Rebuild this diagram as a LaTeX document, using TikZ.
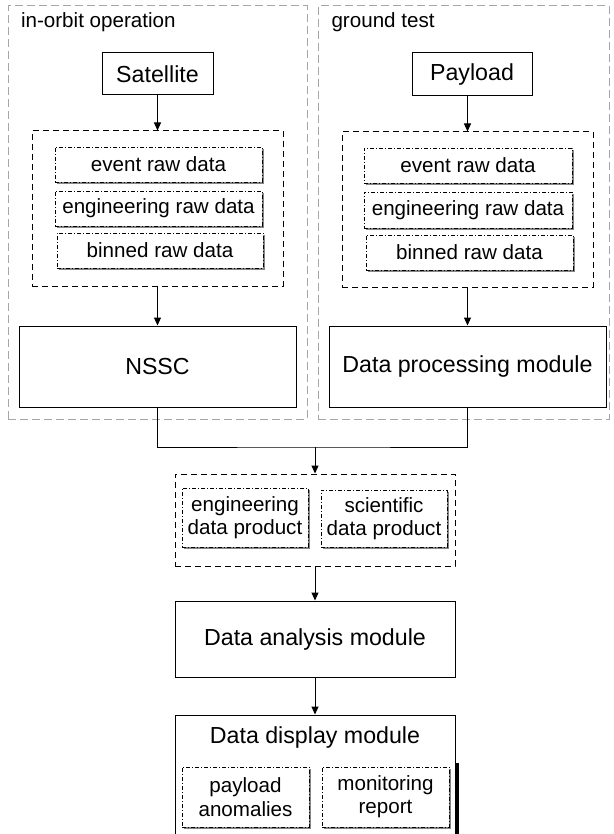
\documentclass[tikz,border=0pt]{standalone}
\usepackage{fontspec}
\setmainfont{Liberation Sans}
\usetikzlibrary{arrows.meta,shadows}

\begin{document}
\begin{tikzpicture}[x=1pt,y=-1pt,
  big node/.style={draw,fill=white,line width=1pt,inner sep=0pt,font=\fontsize{23.2}{26}\selectfont},
  raw node/.style={draw,fill=white,line width=0.8pt,inner sep=0pt,align=center,
    dash pattern=on 4pt off 2pt on 1pt off 2pt,font=\fontsize{20.6}{23.3}\selectfont,
    drop shadow={shadow xshift=2pt,shadow yshift=-2pt,fill=black!60,opacity=.8}},
  group node/.style={draw,line width=1pt,inner sep=0pt,dash pattern=on 6pt off 4pt},
  area node/.style={draw=black!35,line width=1pt,inner sep=0pt,dash pattern=on 8pt off 4pt},
  arr/.style={-{Triangle[length=8pt,width=7pt]},line width=1pt}]

  \useasboundingbox (0,0) rectangle (613,834);

  % two test areas
  \node[area node,minimum width=299pt,minimum height=413pt] (orbit) at (157.5,212.5) {};
  \node[area node,minimum width=291pt,minimum height=413pt] (ground) at (463.5,212.5) {};
  \node[anchor=base west,font=\fontsize{20.6}{23.3}\selectfont] (t1) at (17.5,27.5) {in-orbit operation};
  \node[anchor=base west,font=\fontsize{20.6}{23.3}\selectfont] (t2) at (328,27.5) {ground test};

  % in-orbit operation
  \node[big node,minimum width=111pt,minimum height=42pt] (sat) at (157.5,74) {Satellite};
  \node[group node,minimum width=251pt,minimum height=155pt] (g1) at (157.5,208.5) {};
  \node[raw node,minimum width=207pt,minimum height=35pt] (erd1) at (158.5,164.5) {event raw data};
  \node[raw node,minimum width=207pt,minimum height=35pt] (eng1) at (158.5,208.5) {engineering raw data};
  \node[raw node,minimum width=206pt,minimum height=35pt] (bin1) at (160,250.5) {binned raw data};
  \node[big node,minimum width=277pt,minimum height=81pt] (nssc) at (157.5,366.5) {NSSC};

  % ground test
  \node[big node,minimum width=120pt,minimum height=43pt] (pay) at (472,74.5) {Payload};
  \node[group node,minimum width=251pt,minimum height=155pt] (g2) at (467.5,209.5) {};
  \node[raw node,minimum width=208pt,minimum height=35pt] (erd2) at (468,165.5) {event raw data};
  \node[raw node,minimum width=208pt,minimum height=36pt] (eng2) at (468,210) {engineering raw data};
  \node[raw node,minimum width=207pt,minimum height=35pt] (bin2) at (469.5,252.5) {binned raw data};
  \node[big node,minimum width=277pt,minimum height=81pt] (dpm) at (467.5,366.5) {Data processing module};

  % products and modules
  \coordinate (j) at (315,447);
  \node[group node,minimum width=280pt,minimum height=92pt] (g3) at (315,520) {};
  \node[raw node,minimum width=126pt,minimum height=59pt] (edp) at (245,517.5) {engineering\\data product};
  \node[raw node,minimum width=126pt,minimum height=57pt] (sdp) at (384,518.5) {scientific\\data product};
  \node[big node,minimum width=280pt,minimum height=76pt] (dam) at (315,639) {Data analysis module};
  \node[big node,minimum width=280pt,minimum height=145pt] (ddm) at (315,787.5) {};
  \node[anchor=base,font=\fontsize{23.2}{26}\selectfont] (t3) at (315,743.3) {Data display module};
  \node[raw node,minimum width=127pt,minimum height=60pt] (pa) at (245.5,797) {payload\\anomalies};
  \node[raw node,minimum width=127pt,minimum height=60pt] (mr) at (385.5,797) {monitoring\\report};
  \draw[line width=4pt] (457,763) -- (457,834);

  \draw[arr] (sat) -- (g1);
  \draw[arr] (g1) -- (nssc);
  \draw[arr] (pay.south -| g2.north) -- (g2.north);
  \draw[arr] (g2) -- (dpm);
  \draw[line width=1pt] (nssc.south) |- (j) -| (dpm.south);
  \draw[arr] (j) -- (g3);
  \draw[arr] (g3) -- (dam);
  \draw[arr] (dam) -- (ddm);

\end{tikzpicture}
\end{document}
